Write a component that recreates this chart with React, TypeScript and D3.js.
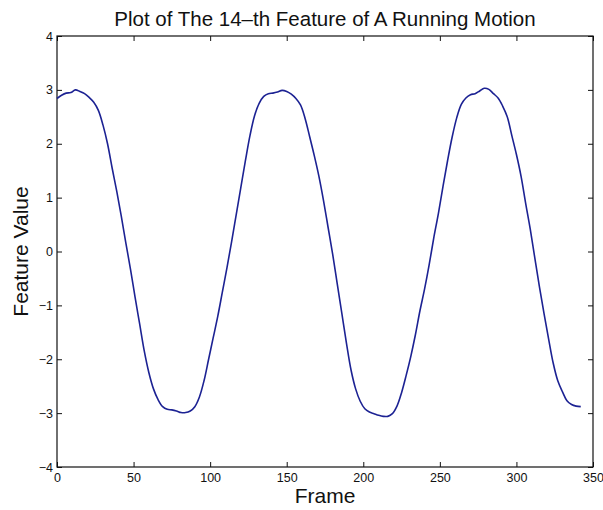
import React, { useEffect, useRef } from "react";
import * as d3 from "d3";

// Frame indices and the 14th feature value at each frame
const frames = [
  0, 3, 6, 9, 12, 15, 18, 21, 24, 27, 30, 33, 36, 39, 42, 45, 48, 51, 54, 57,
  60, 63, 66, 69, 72, 75, 78, 81, 84, 87, 90, 93, 96, 99, 102, 105, 108, 111,
  114, 117, 120, 123, 126, 129, 132, 135, 138, 141, 144, 147, 150, 153, 156,
  159, 162, 165, 168, 171, 174, 177, 180, 183, 186, 189, 192, 195, 198, 201,
  204, 207, 210, 213, 216, 219, 222, 225, 228, 231, 234, 237, 240, 243, 246,
  249, 252, 255, 258, 261, 264, 267, 270, 273, 276, 279, 282, 285, 288, 291,
  294, 297, 300, 303, 306, 309, 312, 315, 318, 321, 324, 327, 330, 333, 336,
  339, 342,
];
const featureValues = [
  2.84, 2.9, 2.94, 2.95, 3.0, 2.97, 2.93, 2.86, 2.77, 2.62, 2.35, 2.0, 1.55,
  1.12, 0.65, 0.15, -0.33, -0.85, -1.35, -1.85, -2.25, -2.55, -2.75, -2.88,
  -2.93, -2.94, -2.96, -2.99, -2.99, -2.96, -2.88, -2.7, -2.4, -2.0, -1.6,
  -1.2, -0.75, -0.3, 0.18, 0.68, 1.18, 1.68, 2.15, 2.52, 2.75, 2.88, 2.93,
  2.94, 2.96, 2.99, 2.97, 2.92, 2.84, 2.72, 2.47, 2.13, 1.78, 1.4, 0.95, 0.45,
  -0.05, -0.6, -1.15, -1.7, -2.2, -2.55, -2.78, -2.92, -2.98, -3.01, -3.04,
  -3.06, -3.06, -3.01, -2.87, -2.62, -2.3, -1.95, -1.55, -1.1, -0.7, -0.25,
  0.25, 0.7, 1.2, 1.68, 2.12, 2.48, 2.73, 2.85, 2.91, 2.93, 2.98, 3.03, 3.01,
  2.93, 2.85, 2.7, 2.5, 2.15, 1.8, 1.4, 0.9, 0.42, -0.12, -0.65, -1.15, -1.62,
  -2.07, -2.4, -2.6, -2.77, -2.84, -2.87, -2.88,
];
const xTicks = [0, 50, 100, 150, 200, 250, 300, 350];
const yTicks = [-4, -3, -2, -1, 0, 1, 2, 3, 4];

const W = 603;
const H = 510;
const margin = { left: 57, right: 10, top: 36, bottom: 43 };
const FONT = "Arial, 'Liberation Sans', Helvetica, sans-serif";

export default function App() {
  const ref = useRef<SVGSVGElement>(null);

  useEffect(() => {
    const svg = d3.select(ref.current);
    svg.selectAll("*").remove();

    const x0 = margin.left;
    const x1 = W - margin.right;
    const y0 = H - margin.bottom;
    const y1 = margin.top;

    const x = d3.scaleLinear().domain([0, 350]).range([x0, x1]);
    const y = d3.scaleLinear().domain([-4, 4]).range([y0, y1]);

    svg.append("rect").attr("width", W).attr("height", H).attr("fill", "#fff");

    const tickLen = 5;
    const ink = "#111";

    // bottom axis with inward ticks and labels
    const bottom = svg
      .append("g")
      .attr("transform", `translate(0,${y0})`)
      .call(
        d3
          .axisBottom(x)
          .tickValues(xTicks)
          .tickSizeInner(-tickLen)
          .tickSizeOuter(0)
          .tickPadding(4)
          .tickFormat(d3.format("d"))
      );
    // top axis, ticks only
    const top = svg
      .append("g")
      .attr("transform", `translate(0,${y1})`)
      .call(
        d3.axisTop(x).tickValues(xTicks).tickSizeInner(-tickLen).tickSizeOuter(0).tickFormat(() => "")
      );
    // left axis with labels
    const left = svg
      .append("g")
      .attr("transform", `translate(${x0},0)`)
      .call(
        d3
          .axisLeft(y)
          .tickValues(yTicks)
          .tickSizeInner(-tickLen)
          .tickSizeOuter(0)
          .tickPadding(4)
          .tickFormat((d) => (Number(d) < 0 ? "\u2212" + Math.abs(Number(d)) : String(d)))
      );
    // right axis, ticks only
    const right = svg
      .append("g")
      .attr("transform", `translate(${x1},0)`)
      .call(
        d3.axisRight(y).tickValues(yTicks).tickSizeInner(-tickLen).tickSizeOuter(0).tickFormat(() => "")
      );

    [bottom, top, left, right].forEach((g) => {
      g.selectAll(".domain").remove();
      g.selectAll("line").attr("stroke", ink).attr("stroke-width", 1);
      g.selectAll("text")
        .attr("fill", ink)
        .style("font-family", FONT)
        .style("font-size", "12.5px");
    });
    bottom.selectAll("text").attr("dy", "0.9em");

    // frame box
    svg
      .append("rect")
      .attr("x", x0)
      .attr("y", y1)
      .attr("width", x1 - x0)
      .attr("height", y0 - y1)
      .attr("fill", "none")
      .attr("stroke", ink)
      .attr("stroke-width", 1.2);

    // feature curve
    const pts: [number, number][] = frames.map((f, i) => [f, featureValues[i]]);
    const line = d3
      .line<[number, number]>()
      .x((d) => x(d[0]))
      .y((d) => y(d[1]))
      .curve(d3.curveCatmullRom.alpha(0.5));
    svg
      .append("path")
      .datum(pts)
      .attr("d", line)
      .attr("fill", "none")
      .attr("stroke", "#1c2293")
      .attr("stroke-width", 1.6)
      .attr("stroke-linejoin", "round");

    // title and axis labels
    svg
      .append("text")
      .attr("x", (x0 + x1) / 2)
      .attr("y", 26)
      .attr("text-anchor", "middle")
      .style("font-family", FONT)
      .style("font-size", "20.5px")
      .attr("fill", ink)
      .text("Plot of The 14\u2013th Feature of A Running Motion");

    svg
      .append("text")
      .attr("x", (x0 + x1) / 2)
      .attr("y", 503)
      .attr("text-anchor", "middle")
      .style("font-family", FONT)
      .style("font-size", "21px")
      .attr("fill", ink)
      .text("Frame");

    svg
      .append("text")
      .attr("transform", `translate(28,${(y0 + y1) / 2}) rotate(-90)`)
      .attr("text-anchor", "middle")
      .style("font-family", FONT)
      .style("font-size", "21px")
      .attr("fill", ink)
      .text("Feature Value");
  }, []);

  return (
    <svg
      ref={ref}
      width={W}
      height={H}
      style={{ position: "absolute", left: 0, top: 0, display: "block" }}
    />
  );
}
